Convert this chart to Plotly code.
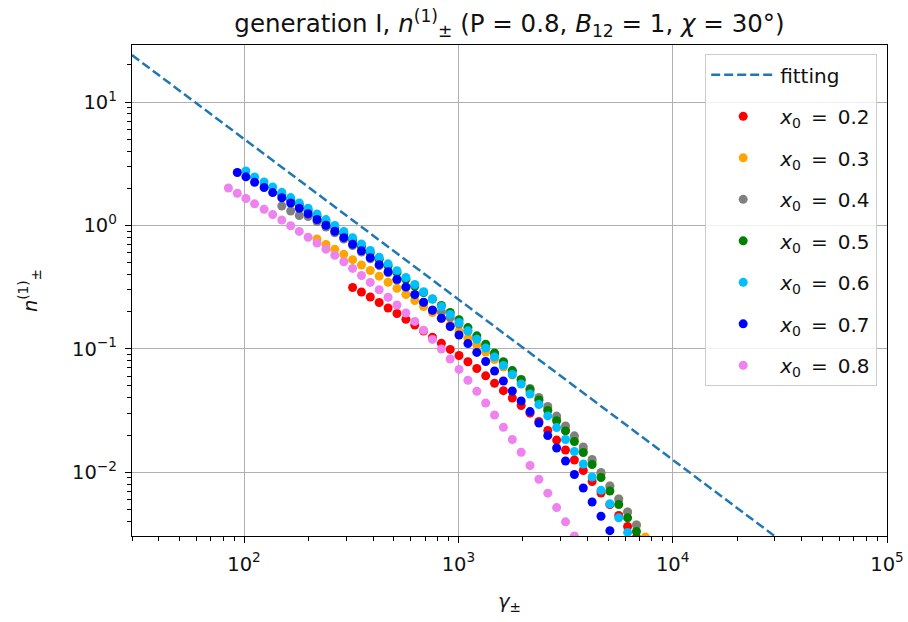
import plotly.graph_objects as go

# Lorentz factor bins shared by every initial position x0
gamma = [84.5, 93, 102, 112, 124, 136, 150, 165, 181, 199, 219, 241, 265, 292,
         321, 353, 388, 427, 470, 517, 569, 626, 688, 757, 833, 916, 1007, 1108,
         1219, 1341, 1475, 1622, 1785, 1963, 2159, 2375, 2613, 2874, 3162, 3478,
         3826, 4208, 4629, 5092, 5601, 6161, 6777, 7455]

# first populated bin for each x0
start_02, start_03, start_04, start_05, start_06, start_07, start_08 = 14, 10, 6, 6, 2, 1, 0

n_02 = [0.3138, 0.2886, 0.2629, 0.2372, 0.2141, 0.1932, 0.1734, 0.1559, 0.1394,
        0.1242, 0.1108, 0.0989, 0.0882, 0.0786, 0.0693, 0.0604, 0.0526, 0.0458,
        0.0399, 0.0347, 0.0301, 0.0258, 0.0218, 0.0182, 0.01513, 0.01256, 0.01032,
        0.00841, 0.00678, 0.00547, 0.00446, 0.00363, 0.00296]
n_03 = [0.776, 0.700, 0.640, 0.583, 0.528, 0.478, 0.431, 0.388, 0.3465, 0.309,
        0.2754, 0.2462, 0.2203, 0.1968, 0.1754, 0.1559, 0.1381, 0.1219, 0.1073,
        0.0942, 0.0819, 0.0712, 0.0613, 0.0528, 0.0451, 0.0385, 0.0325, 0.0272,
        0.0226, 0.0186, 0.01513, 0.01221, 0.00976, 0.00773, 0.00606, 0.00476,
        0.00373, 0.00298]
n_04 = [1.436, 1.308, 1.203, 1.181, 1.075, 0.971, 0.871, 0.776, 0.687, 0.609,
        0.536, 0.4716, 0.4129, 0.3610, 0.3138, 0.2729, 0.2372, 0.2063, 0.1987, 0.1793,
        0.1589, 0.1394, 0.1212, 0.1044, 0.0899, 0.0774, 0.0661, 0.0564, 0.0477,
        0.0403, 0.0341, 0.0285, 0.0237, 0.0197, 0.0160, 0.01267, 0.00995, 0.00773,
        0.00606, 0.00476, 0.00373]
n_05 = [1.780, 1.612, 1.463, 1.320, 1.192, 1.070, 0.960, 0.858, 0.764, 0.678,
        0.602, 0.532, 0.471, 0.415, 0.366, 0.323, 0.286, 0.2532, 0.2243, 0.1968,
        0.1718, 0.1485, 0.1274, 0.1088, 0.0925, 0.0785, 0.0666, 0.0562, 0.0467,
        0.0385, 0.0316, 0.0261, 0.0216, 0.0177, 0.01444, 0.01155, 0.00906, 0.00704,
        0.00547, 0.00427, 0.00331]
n_06 = [2.760, 2.467, 2.247, 2.048, 1.854, 1.680, 1.522, 1.376, 1.239, 1.114,
        1.000, 0.894, 0.796, 0.707, 0.626, 0.553, 0.488, 0.430, 0.378, 0.332,
        0.290, 0.2532, 0.2198, 0.1900, 0.1633, 0.1399, 0.1194, 0.1015, 0.0858,
        0.0732, 0.0619, 0.0518, 0.0430, 0.0354, 0.0286, 0.0230, 0.0184, 0.01471,
        0.01165, 0.00914, 0.00713, 0.00554, 0.00427, 0.00325]
n_07 = [2.684, 2.476, 2.239, 2.028, 1.844, 1.674, 1.519, 1.376, 1.242, 1.116,
        1.002, 0.896, 0.796, 0.704, 0.623, 0.548, 0.481, 0.421, 0.366, 0.318,
        0.276, 0.2385, 0.2055, 0.1767, 0.1516, 0.1294, 0.1102, 0.0935, 0.0789,
        0.0661, 0.0548, 0.0455, 0.0378, 0.0310, 0.0250, 0.0198, 0.0157, 0.01233,
        0.00958, 0.00745, 0.00574, 0.00440, 0.00336]
n_08 = [2.010, 1.823, 1.652, 1.496, 1.353, 1.223, 1.104, 0.994, 0.894, 0.802,
        0.719, 0.642, 0.572, 0.508, 0.448, 0.393, 0.345, 0.301, 0.2615, 0.2264,
        0.1950, 0.1667, 0.1415, 0.1192, 0.0996, 0.0827, 0.0681, 0.0556, 0.0452,
        0.0364, 0.0291, 0.0231, 0.0184, 0.0145, 0.01133, 0.00876, 0.00676, 0.00517,
        0.00396, 0.00304]

# power-law fit n = 2000 * gamma^-1.3, evaluated at the ends of the plotted range
fit_gamma = [30, 1e5]
fit_n = [24.0, 6.32e-4]

x0_labels = ["0.2", "0.3", "0.4", "0.5", "0.6", "0.7", "0.8"]
colors = ["red", "orange", "gray", "green", "deepskyblue", "blue", "violet"]
series = [(start_02, n_02), (start_03, n_03), (start_04, n_04), (start_05, n_05),
          (start_06, n_06), (start_07, n_07), (start_08, n_08)]

xtick_vals = [1e2, 1e3, 1e4, 1e5]
xtick_text = ["10<sup>2</sup>", "10<sup>3</sup>", "10<sup>4</sup>", "10<sup>5</sup>"]
ytick_vals = [1e1, 1e0, 1e-1, 1e-2]
ytick_text = ["10<sup>1</sup>", "10<sup>0</sup>", "10<sup>\u22121</sup>", "10<sup>\u22122</sup>"]

# minor ticks at 2..9 of every decade
x_minor = [m * 10 ** e for e in range(1, 5) for m in range(2, 10)]
y_minor = [m * 10.0 ** e for e in range(-3, 2) for m in range(2, 10)]

FONT = "DejaVu Sans"
TXT = "#111111"
TICK_SIZE = 19.5
EN = "\u2002"

fig = go.Figure()
fig.add_trace(go.Scatter(
    x=fit_gamma, y=fit_n, mode="lines", name="fitting", legendgroup="fit",
    line=dict(color="#1f77b4", width=2.5, dash="9px,4px"),
))
for lab, col, (s, vals) in zip(x0_labels, colors, series):
    fig.add_trace(go.Scatter(
        x=gamma[s:s + len(vals)], y=vals, mode="markers",
        name=f"<i>x</i><sub>0</sub>{EN}={EN}{lab}", legendgroup=lab,
        marker=dict(color=col, size=9, line=dict(width=0)),
    ))


def axis_style(minor_vals):
    return dict(
        type="log", showline=True, linecolor="black", linewidth=1.3, mirror=True,
        showgrid=True, gridcolor="#b0b0b0", gridwidth=1.2,
        ticks="outside", ticklen=6, tickwidth=1.3, tickcolor="black",
        tickfont=dict(family=FONT, size=TICK_SIZE, color=TXT),
        ticklabelstandoff=4,
        minor=dict(tickvals=minor_vals, ticks="outside", ticklen=3.5, tickwidth=1,
                   tickcolor="black", showgrid=False),
        zeroline=False, automargin=False,
    )


fig.update_layout(
    width=908, height=622,
    margin=dict(l=132, r=21, t=45, b=86),
    paper_bgcolor="white", plot_bgcolor="white",
    font=dict(family=FONT, color=TXT),
    title=dict(
        text="generation I, <i>n</i><sup>(1)</sup><sub>\u00b1</sub> (P = 0.8, <i>B</i><sub>12</sub> = 1, <i>\u03c7</i> = 30\u00b0)",
        x=0.5, xref="paper", xanchor="center", y=0.962, yanchor="middle",
        font=dict(family=FONT, size=24.5, color=TXT),
    ),
    xaxis=dict(axis_style(x_minor), range=[1.4771, 5.0], tickvals=xtick_vals, ticktext=xtick_text,
               title=dict(text="<i>\u03b3</i><sub>\u00b1</sub>", font=dict(family=FONT, size=TICK_SIZE, color=TXT), standoff=19)),
    yaxis=dict(axis_style(y_minor), range=[-2.517, 1.462], tickvals=ytick_vals, ticktext=ytick_text,
               title=dict(text="<i>n</i><sup>(1)</sup><sub>\u00b1</sub>", font=dict(family=FONT, size=TICK_SIZE, color=TXT), standoff=29)),
    legend=dict(
        x=0.987, y=0.981, xanchor="right", yanchor="top",
        bgcolor="rgba(255,255,255,0.8)", bordercolor="#cccccc", borderwidth=1,
        font=dict(family=FONT, size=20, color=TXT),
        itemwidth=64, tracegroupgap=12.5,
    ),
    showlegend=True,
)

fig.write_html("out.html", config={"displayModeBar": False})
